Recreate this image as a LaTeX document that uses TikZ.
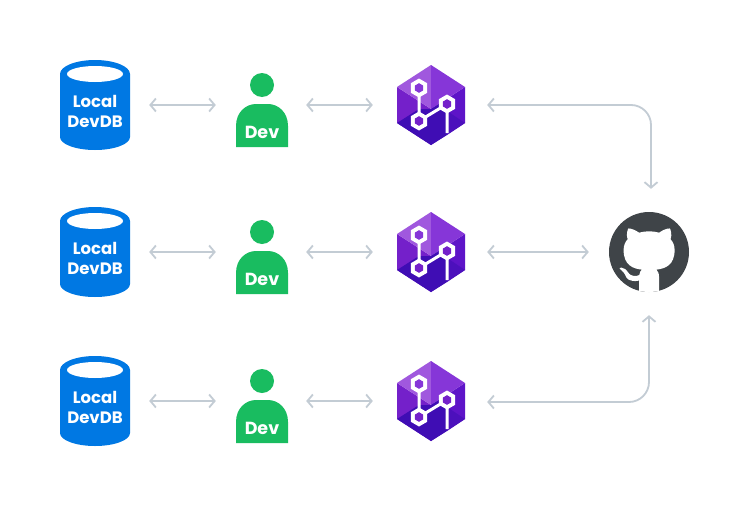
\documentclass[tikz,border=0pt]{standalone}
\usepackage{fontspec}
\setmainfont{Poppins}
\usetikzlibrary{arrows.meta}
\definecolor{dbblue}{HTML}{0078E3}
\definecolor{devgreen}{HTML}{19BC60}
\definecolor{linkgrey}{HTML}{C3CCD4}
\definecolor{ghdark}{HTML}{3F4448}
\definecolor{facetA}{HTML}{A058DE}
\definecolor{facetB}{HTML}{8636D8}
\definecolor{facetC}{HTML}{7420CA}
\definecolor{facetD}{HTML}{5E14C8}
\definecolor{facetF}{HTML}{3F0DB4}
\definecolor{facetG}{HTML}{4C10BC}
\tikzset{
  x=1pt,y=-1pt,
  lbl/.style={text=white,align=center,inner sep=0pt},
  box/.style={inner sep=0pt,draw=none},
  link/.style={draw=linkgrey,line width=1.8pt,rounded corners=20pt,
    {Straight Barb[length=5.5pt,width=13pt,line width=1.8pt]}-{Straight Barb[length=5.5pt,width=13pt,line width=1.8pt]}},
  hexline/.style={draw=white,line width=3pt},
}
\newcommand{\dbicon}[2]{%
  \fill[dbblue] (60,#2-31) arc[x radius=35,y radius=14,start angle=180,end angle=360]
    -- (130,#2+32) arc[x radius=35,y radius=13,start angle=0,end angle=180] -- cycle;
  \fill[white] (95,#2-31) ellipse[x radius=28,y radius=8];
  \node[box,minimum width=70pt,minimum height=90pt] (#1) at (95,#2) {};
  \node[lbl,font=\bfseries\fontsize{16.5}{20}\selectfont] (#1t) at (95,#2+6) {Local\\DevDB};
}
\newcommand{\devicon}[2]{%
  \fill[devgreen] (262,#2-20) circle[radius=12];
  \fill[devgreen] (236,#2+42) -- (236,#2+21)
    .. controls (236,#2+7) and (246,#2-1) .. (256,#2-1)
    -- (268,#2-1)
    .. controls (278,#2-1) and (288,#2+7) .. (288,#2+21)
    -- (288,#2+42) -- cycle;
  \node[box,minimum width=52pt,minimum height=84pt] (#1) at (262,#2) {};
  \node[lbl,font=\bfseries\fontsize{17.5}{20}\selectfont] (#1t) at (262,#2+27) {Dev};
}
\newcommand{\hexshape}[3]{% cx cy R
  (#1,#2-#3) -- (#1+0.866*#3,#2-0.5*#3) -- (#1+0.866*#3,#2+0.5*#3) -- (#1,#2+#3) -- (#1-0.866*#3,#2+0.5*#3) -- (#1-0.866*#3,#2-0.5*#3) -- cycle
}
\newcommand{\gitnode}[2]{%
  \begin{scope}[shift={(431,#2)}]
    \fill[facetC] (-34,-18) -- (0,4) -- (0,40) -- (-34,18) -- cycle;
    \fill[facetD] (34,-18) -- (0,4) -- (0,40) -- (34,18) -- cycle;
    \fill[facetA] (0,-40) -- (-34,-18) -- (0,4) -- cycle;
    \fill[facetB] (0,-40) -- (34,-18) -- (0,4) -- cycle;
    \fill[facetF] (-34,18) -- (-12,4) -- (0,4) -- (16,-6) -- (16,30) -- (0,40) -- cycle;
    \fill[facetG] (34,18) -- (16,6) -- (16,30) -- cycle;
    \draw[hexline] (-12,-17) -- (-12,16) -- (16,-1) -- (16,28);
    \fill[white] \hexshape{-12}{-17}{9.5};
    \fill[white] \hexshape{-12}{16}{9.5};
    \fill[white] \hexshape{16}{-1}{9.5};
    \fill[facetB] \hexshape{-12}{-17}{4.8};
    \fill[facetC] \hexshape{-12}{16}{4.8};
    \fill[facetC] \hexshape{16}{-1}{4.8};
  \end{scope}
  \node[box,minimum width=68pt,minimum height=80pt] (#1) at (431,#2) {};
}
\begin{document}
\begin{tikzpicture}
\useasboundingbox[fill=white] (0,0) rectangle (749,506);
\dbicon{dbA}{105}
\dbicon{dbB}{252}
\dbicon{dbC}{401}
\devicon{devA}{105}
\devicon{devB}{252}
\devicon{devC}{401}
\gitnode{gitA}{105}
\gitnode{gitB}{252}
\gitnode{gitC}{401}
% GitHub
\fill[ghdark] (649,252) circle[radius=40];
\node[box,minimum width=80pt,minimum height=80pt] (hub) at (649,252) {};
\begin{scope}
  \clip (649,252) circle[radius=40];
  \begin{scope}[shift={(609,212)},xscale=5,yscale=5]
    \fill[white] (6.02,16.5) -- (6.02,15.21)
      .. controls (6.02,15.02) and (6.01,14.39) .. (6.01,13.72)
      .. controls (4,14.09) and (3.48,13.23) .. (3.32,12.78)
      .. controls (3.23,12.55) and (2.84,11.84) .. (2.5,11.65)
      .. controls (2.22,11.5) and (1.82,11.13) .. (2.49,11.12)
      .. controls (3.12,11.11) and (3.57,11.7) .. (3.72,11.94)
      .. controls (4.44,13.15) and (5.59,12.81) .. (6.05,12.6)
      .. controls (6.12,12.08) and (6.33,11.73) .. (6.56,11.53)
      .. controls (4.78,11.33) and (2.92,10.64) .. (2.92,7.58)
      .. controls (2.92,6.71) and (3.23,5.99) .. (3.74,5.43)
      .. controls (3.66,5.23) and (3.38,4.41) .. (3.82,3.31)
      .. controls (3.82,3.31) and (4.49,3.1) .. (6.02,4.13)
      .. controls (6.66,3.95) and (7.34,3.86) .. (8.02,3.86)
      .. controls (8.7,3.86) and (9.38,3.95) .. (10.02,4.13)
      .. controls (11.55,3.09) and (12.22,3.31) .. (12.22,3.31)
      .. controls (12.66,4.41) and (12.38,5.23) .. (12.3,5.43)
      .. controls (12.81,5.99) and (13.12,6.7) .. (13.12,7.58)
      .. controls (13.12,10.65) and (11.25,11.33) .. (9.47,11.53)
      .. controls (9.76,11.78) and (10.01,12.26) .. (10.01,13.01)
      .. controls (10.01,14.08) and (10,14.94) .. (10,15.21)
      -- (10,16.5) -- cycle;
  \end{scope}
\end{scope}
% connectors
\foreach \r in {A,B,C}{
  \draw[link,shorten <=19pt,shorten >=20pt] (db\r.east) -- (dev\r.west);
  \draw[link,shorten <=18pt,shorten >=24pt] (dev\r.east) -- (git\r.west);
}
\draw[link,shorten <=22pt,shorten >=20pt] (gitB.east) -- (hub.west);
\draw[link,shorten <=22pt,shorten >=23pt] (gitA.east) -- (651,105) -- (hub.north -| 651,0);
\draw[link,shorten <=22pt,shorten >=23pt] ([yshift=-1pt]gitC.east) -- (649,402) -- (hub.south);
\end{tikzpicture}
\end{document}
